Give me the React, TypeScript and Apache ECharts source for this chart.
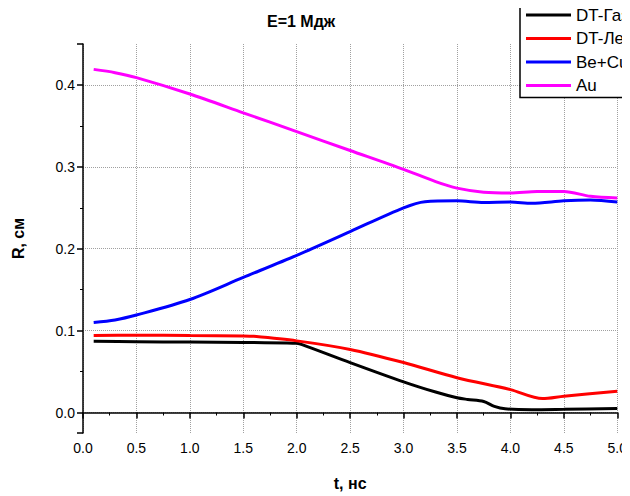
import React, { useEffect, useRef } from "react";
import * as echarts from "echarts";

const seriesNames = ["DT-Газ", "DT-Лед", "Be+Cu", "Au"];
const seriesColors = ["#000000", "#ff0000", "#0000ff", "#ff00ff"];

const dtGas: [number, number][] = [
  [0.1, 0.087], [0.5, 0.0865], [1.0, 0.086], [1.5, 0.0855], [1.9, 0.085], [2.0, 0.0845],
  [2.05, 0.083], [2.5, 0.061], [3.0, 0.0375], [3.3, 0.025], [3.5, 0.018], [3.6, 0.016],
  [3.75, 0.0135], [3.85, 0.0075], [3.95, 0.0045], [4.2, 0.0035], [4.5, 0.004], [5.0, 0.005],
];
const dtIce: [number, number][] = [
  [0.1, 0.094], [0.5, 0.0945], [1.0, 0.094], [1.5, 0.0935], [1.6, 0.093], [2.0, 0.0875],
  [2.5, 0.077], [3.0, 0.061], [3.5, 0.0425], [4.0, 0.028], [4.3, 0.017], [4.5, 0.02], [5.0, 0.026],
];
const beCu: [number, number][] = [
  [0.1, 0.11], [0.3, 0.113], [0.5, 0.119], [1.0, 0.138], [1.5, 0.165], [2.0, 0.192],
  [2.5, 0.221], [3.0, 0.25], [3.2, 0.2575], [3.5, 0.2585], [3.75, 0.2565], [4.0, 0.257],
  [4.2, 0.2555], [4.5, 0.2585], [4.75, 0.2595], [5.0, 0.257],
];
const au: [number, number][] = [
  [0.1, 0.419], [0.3, 0.415], [0.5, 0.409], [1.0, 0.389], [1.5, 0.366], [2.0, 0.343],
  [2.5, 0.32], [3.0, 0.297], [3.3, 0.282], [3.5, 0.274], [3.75, 0.269], [4.0, 0.268],
  [4.25, 0.27], [4.5, 0.27], [4.75, 0.264], [5.0, 0.262],
];
const allData = [dtGas, dtIce, beCu, au];

const FONT = "Arial, 'Liberation Sans', sans-serif";

export default function App() {
  const ref = useRef<HTMLDivElement>(null);
  useEffect(() => {
    if (!ref.current) return;
    const chart = echarts.init(ref.current, null, { renderer: "svg" });
    chart.setOption({
      animation: false,
      backgroundColor: "#ffffff",
      title: {
        text: "E=1 Мдж",
        left: 262,
        top: 8,
        textStyle: { fontFamily: FONT, fontSize: 16, fontWeight: "bold", color: "#000" },
      },
      legend: {
        orient: "vertical",
        left: 520,
        top: 3,
        padding: [2, 10, 2, 6],
        itemGap: 3.5,
        itemWidth: 45,
        itemHeight: 3,
        icon: "rect",
        backgroundColor: "#ffffff",
        borderColor: "#000",
        borderWidth: 1.5,
        borderRadius: 0,
        textStyle: { fontFamily: FONT, fontSize: 17, lineHeight: 20, color: "#000" },
        data: seriesNames,
      },
      grid: { left: 83, right: 12, top: 44, bottom: 62, containLabel: false },
      xAxis: {
        type: "value",
        min: 0,
        max: 5,
        interval: 0.5,
        name: "t, нс",
        nameLocation: "middle",
        nameGap: 42,
        nameTextStyle: { fontFamily: FONT, fontSize: 16, fontWeight: "bold", color: "#000" },
        axisLine: { show: true, lineStyle: { color: "#000", width: 1.5 } },
        axisTick: { show: true, length: 6, lineStyle: { color: "#000", width: 1.5 } },
        minorTick: { show: true, splitNumber: 2, length: 3, lineStyle: { color: "#000", width: 1 } },
        axisLabel: {
          fontFamily: FONT, fontSize: 14, color: "#000", margin: 8,
          formatter: (v: number) => v.toFixed(1),
        },
        splitLine: { show: true, lineStyle: { color: "#a0a0a0", type: "dotted", width: 1 } },
      },
      yAxis: {
        type: "value",
        min: -0.025,
        max: 0.45,
        name: "R, см",
        nameLocation: "middle",
        nameGap: 57,
        nameTextStyle: { fontFamily: FONT, fontSize: 16, fontWeight: "bold", color: "#000" },
        axisLine: { show: true, lineStyle: { color: "#000", width: 1.5 } },
        axisTick: { show: true, length: 6, lineStyle: { color: "#000", width: 1.5 } },
        minorTick: { show: true, splitNumber: 2, length: 3, lineStyle: { color: "#000", width: 1 } },
        axisLabel: {
          fontFamily: FONT, fontSize: 14, color: "#000", margin: 8,
          showMinLabel: false, showMaxLabel: false,
          formatter: (v: number) => v.toFixed(1),
        },
        splitLine: {
          show: true, showMinLine: false, showMaxLine: false,
          lineStyle: { color: "#a0a0a0", type: "dotted", width: 1 },
        },
      },
      series: allData.map((d, i) => ({
        name: seriesNames[i],
        type: "line",
        data: d,
        smooth: 0.3,
        showSymbol: false,
        symbol: "none",
        color: seriesColors[i],
        lineStyle: { color: seriesColors[i], width: 3 },
      })),
    });
    return () => chart.dispose();
  }, []);
  return <div ref={ref} style={{ width: 630, height: 496, marginLeft: -8, marginTop: -8 }} />;
}
